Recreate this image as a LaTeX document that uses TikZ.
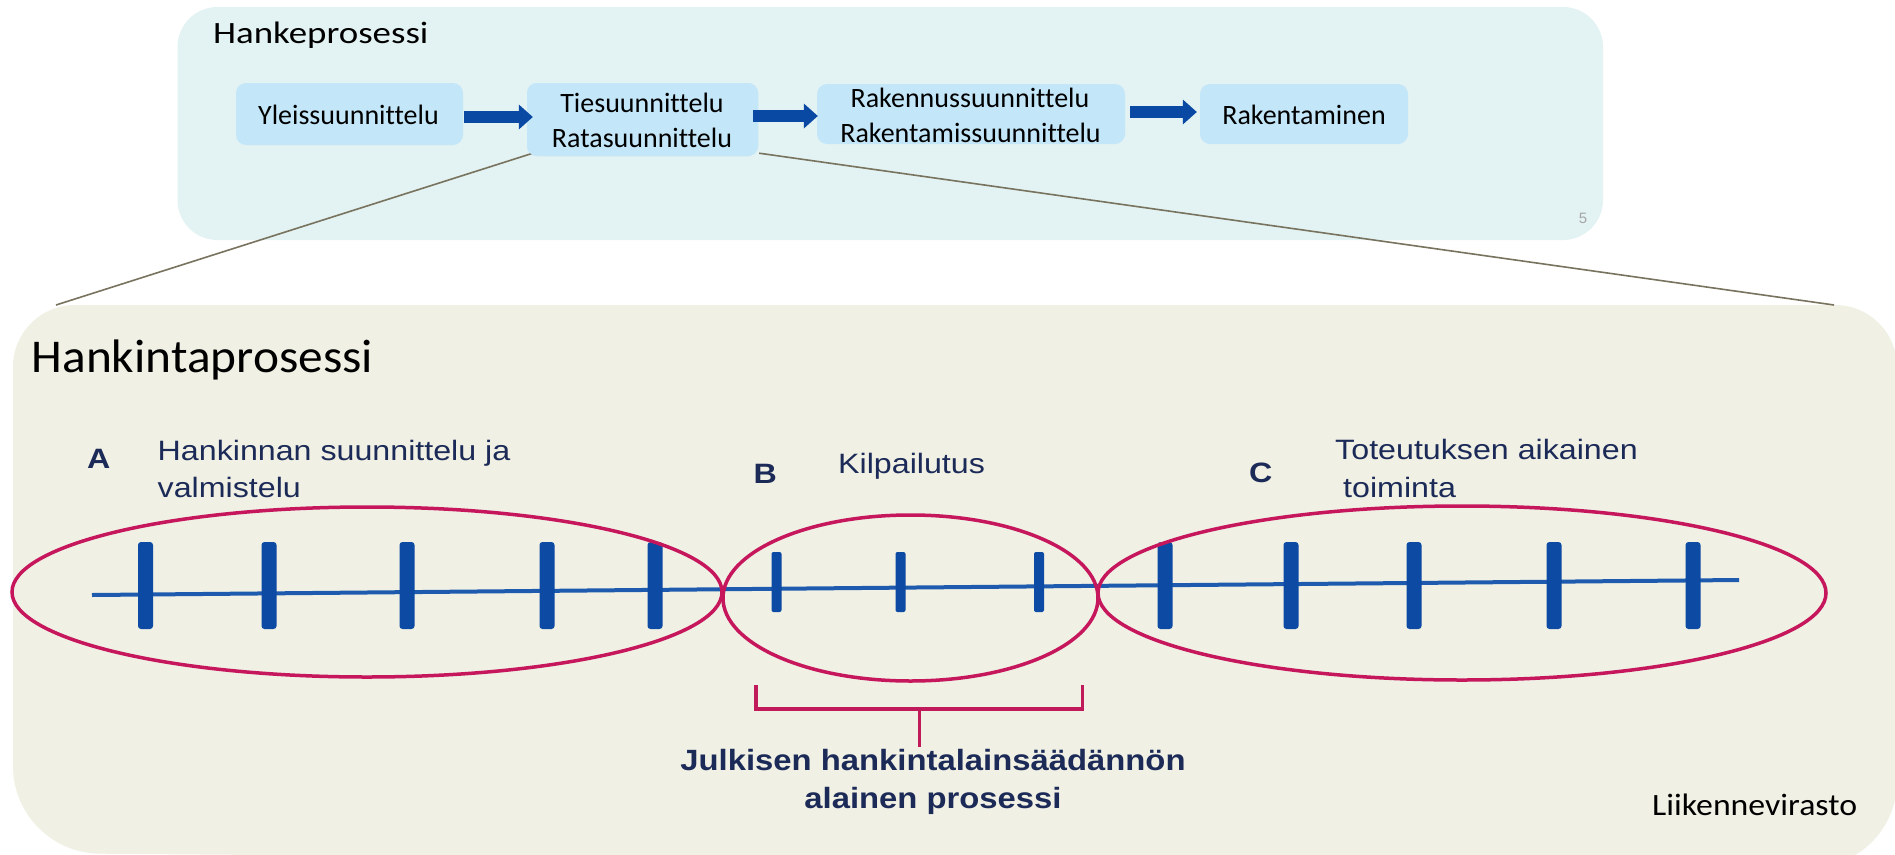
\documentclass[tikz,border=0pt]{standalone}
\usepackage{fontspec}
\usepackage{graphicx}
\setmainfont{Carlito}[Ligatures=NoCommon]
\newfontfamily\arialf{Liberation Sans}[Ligatures=NoCommon]
\usetikzlibrary{arrows.meta,calc}
\definecolor{toppanel}{HTML}{E3F2F2}
\definecolor{botpanel}{HTML}{F0F0E4}
\definecolor{boxc}{HTML}{C3E7F9}
\definecolor{arrowc}{HTML}{0A49A3}
\definecolor{zoomc}{HTML}{78735E}
\definecolor{navy}{HTML}{1C2A58}
\definecolor{ellc}{HTML}{C6175D}
\definecolor{stickc}{HTML}{0D4AA3}
\definecolor{tlinec}{HTML}{1E5AAE}
\definecolor{brc}{HTML}{C01A5A}
\definecolor{pgnum}{HTML}{A6A6A6}
\newcommand{\sx}[2]{\scalebox{#1}[1]{#2}}
\begin{document}
\begin{tikzpicture}[x=1pt,y=-1pt,
  box/.style={fill=boxc, rounded corners=10pt, inner sep=0pt, draw=none},
  boxtxt/.style={anchor=base, inner sep=0pt, font=\fontsize{28}{34}\selectfont, text=black},
  barrow/.style={line width=12pt, draw=arrowc, -{Triangle[length=14pt,width=25pt,line width=0pt]}},
  zoomline/.style={draw=zoomc, line width=1.6pt},
  lbl/.style={anchor=base west, inner sep=0pt, text=navy, font=\arialf\fontsize{28}{34}\selectfont},
  lblb/.style={lbl, font=\arialf\bfseries\fontsize{28}{34}\selectfont},
  ell/.style={draw=ellc, line width=3.5pt},
  tline/.style={draw=tlinec, line width=4pt},
  bracketline/.style={draw=brc, line width=3.5pt},
]
\useasboundingbox (0,0) rectangle (1895,854);
\fill[white] (0,0) rectangle (1895,854);

% panels
\fill[toppanel, rounded corners=40pt] (177.5,7) rectangle (1603,240);
\fill[botpanel] (13,580) [rounded corners=62pt] -- (13,305) -- (1897,305) [rounded corners=87pt] -- (1897,868) -- (13,853) -- cycle;

% top title
\node[anchor=base west, inner sep=0pt, font=\fontsize{31}{37}\selectfont] (ttl) at (213,43) {\sx{1.19}{Hankeprosessi}};

% boxes
\node[box, minimum width=227pt, minimum height=62pt] (yl) at (349.5,114) {};
\node[box, minimum width=231pt, minimum height=73pt] (ti) at (642.5,119.5) {};
\node[box, minimum width=308pt, minimum height=60pt] (rk) at (971,114) {};
\node[box, minimum width=208pt, minimum height=60pt] (rt) at (1304,114) {};

% zoom lines
\coordinate (zl) at (56,305);
\coordinate (zr) at (1834,305);
\draw[zoomline] ($(ti.south west)+(6,-3)$) -- (zl);
\draw[zoomline] ($(ti.south east)+(1,-3)$) -- (zr);
\node[box, minimum width=231pt, minimum height=73pt] (ti2) at (642.5,119.5) {};

% box texts
\node[boxtxt] (ylt) at (348.5,124) {Yleissuunnittelu};
\node[boxtxt] (tit1) at (642,112) {Tiesuunnittelu};
\node[boxtxt] (tit2) at (642,147) {Ratasuunnittelu};
\node[boxtxt] (rkt1) at (970,107) {Rakennussuunnittelu};
\node[boxtxt] (rkt2) at (970.5,142) {Rakentamissuunnittelu};
\node[boxtxt] (rtt) at (1304,124) {Rakentaminen};

% arrows
\draw[barrow] ($(yl.east)+(1,3)$) -- ($(ti.west)+(6,-2.5)$);
\draw[barrow] ($(ti.east)+(-5,-3.5)$) -- ($(rk.west)+(1,2)$);
\draw[barrow] ($(rk.east)+(5,-2)$) -- ($(rt.west)+(-3,-2)$);

% page number
\node[inner sep=0pt, text=pgnum, font=\arialf\fontsize{15}{18}\selectfont] (pn) at (1583,218.5) {5};

% bottom title
\node[anchor=base west, inner sep=0pt, font=\fontsize{47}{56}\selectfont] (btl) at (31.5,372) {\sx{1.05}{Hankintaprosessi}};

% phase labels
\node[lblb] (la) at (87,468) {\sx{1.15}{A}};
\node[lbl] (lat1) at (157.5,460) {\sx{1.15}{Hankinnan suunnittelu ja}};
\node[lbl] (lat2) at (157.5,497) {\sx{1.15}{valmistelu}};
\node[lblb] (lb) at (753.5,483) {\sx{1.15}{B}};
\node[lbl] (lbt) at (838,473) {\sx{1.15}{Kilpailutus}};
\node[lblb] (lc) at (1249,482) {\sx{1.15}{C}};
\node[lbl] (lct1) at (1335,459) {\sx{1.15}{Toteutuksen aikainen}};
\node[lbl] (lct2) at (1343,497) {\sx{1.15}{toiminta}};

% timeline
\coordinate (tl0) at (92,595);
\coordinate (tl1) at (1739,580);
\draw[tline] (tl0) -- (tl1);

% sticks
\foreach \xx in {145.5,269,407,547,655,1165,1291,1414,1554,1693}
  \fill[stickc, rounded corners=3pt] (\xx-7.5,542) rectangle (\xx+7.5,629);
\foreach \xx in {776.5,900.5,1039}
  \fill[stickc, rounded corners=2pt] (\xx-5,552) rectangle (\xx+5,612);

% ellipses
\draw[ell] (367,592) ellipse [x radius=355, y radius=85];
\draw[ell] (910.5,598) ellipse [x radius=187.5, y radius=83];
\draw[ell] (1462,593) ellipse [x radius=364, y radius=87];

% bracket
\coordinate (bl) at (756,685);
\coordinate (br) at (1082.5,685);
\coordinate (bs) at (919.6,709);
\coordinate (be) at (919.6,747);
\draw[bracketline] (bl) |- (bs) -| (br);
\draw[bracketline] (bs) -- (be);

\node[anchor=base, inner sep=0pt, text=navy, font=\arialf\bfseries\fontsize{29.3}{35}\selectfont] (jt1) at (933,770) {\sx{1.12}{Julkisen hankintalainsäädännön}};
\node[anchor=base, inner sep=0pt, text=navy, font=\arialf\bfseries\fontsize{29.3}{35}\selectfont] (jt2) at (933,808) {\sx{1.12}{alainen prosessi}};

% footer
\node[anchor=base west, inner sep=0pt, font=\fontsize{31}{37}\selectfont] (lv) at (1652,815) {\sx{1.09}{Liikennevirasto}};
\end{tikzpicture}
\end{document}
